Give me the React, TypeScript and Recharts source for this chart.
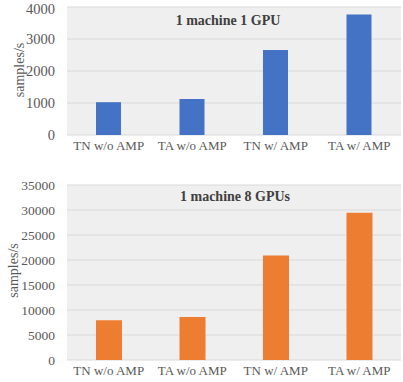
import { BarChart, Bar, XAxis, YAxis, CartesianGrid } from "recharts";

// ── Data ─────────────────────────────────────────────────────────────

const categories = ["TN w/o AMP", "TA w/o AMP", "TN w/ AMP", "TA w/ AMP"];
const oneGpu = [1025, 1125, 2660, 3765];
const eightGpu = [7950, 8590, 20900, 29450];
const oneGpuTicks = [0, 1000, 2000, 3000, 4000];
const eightGpuTicks = [0, 5000, 10000, 15000, 20000, 25000, 30000, 35000];

const FONT = "'Liberation Serif', 'Times New Roman', serif";
const TEXT = "#595959";

// ── Panel ────────────────────────────────────────────────────────────

interface PanelProps {
  title: string;
  values: number[];
  ticks: number[];
  color: string;
  top: number;
  height: number;
  margin: { top: number; right: number; left: number; bottom: number };
  xHeight: number;
  tickFont: number;
  titleTop: number;
  titleLeft: number;
  barSize: number;
  labelDx: number;
  labelDy: number;
}

function Panel(p: PanelProps) {
  const data = categories.map((name, i) => ({ name, value: p.values[i] }));
  const max = p.ticks[p.ticks.length - 1];
  return (
    <div style={{ position: "absolute", top: p.top, left: 0, width: 403, height: p.height }}>
      <BarChart width={403} height={p.height} data={data} margin={p.margin}>
        <CartesianGrid vertical={false} stroke="#d9d9d9" fill="#efefef" />
        <XAxis
          dataKey="name"
          height={p.xHeight}
          axisLine={false}
          tickLine={false}
          tickSize={0}
          tickMargin={6}
          interval={0}
          tick={{ fill: TEXT, fontSize: 13, fontFamily: FONT }}
        />
        <YAxis
          width={67}
          domain={[0, max]}
          ticks={p.ticks}
          axisLine={false}
          tickLine={false}
          tickSize={0}
          tickMargin={12}
          tick={{ fill: TEXT, fontSize: p.tickFont, fontFamily: FONT }}
          label={{
            value: "samples/s",
            angle: -90,
            position: "center",
            dx: p.labelDx,
            dy: p.labelDy,
            style: { fill: TEXT, fontSize: 14, fontFamily: FONT },
          }}
        />
        <Bar
          dataKey="value"
          fill={p.color}
          barSize={p.barSize}
          isAnimationActive={false}
        />
      </BarChart>
      <div
        style={{
          position: "absolute",
          top: p.titleTop,
          left: p.titleLeft,
          transform: "translateX(-50%)",
          whiteSpace: "nowrap",
          fontFamily: FONT,
          fontWeight: "bold",
          fontSize: 14,
          color: "#404040",
        }}
      >
        {p.title}
      </div>
    </div>
  );
}

// ── App ──────────────────────────────────────────────────────────────

export default function App() {
  return (
    <div style={{ position: "absolute", top: 0, left: 0, width: 403, height: 382, background: "#fff" }}>
      <Panel
        title="1 machine 1 GPU"
        values={oneGpu}
        ticks={oneGpuTicks}
        color="#4472c4"
        top={0}
        height={162}
        margin={{ top: 7, right: 2, left: 0, bottom: 0 }}
        xHeight={27}
        tickFont={14.5}
        titleTop={13}
        titleLeft={228}
        barSize={25}
        labelDx={-14.5}
        labelDy={-1}
      />
      <Panel
        title="1 machine 8 GPUs"
        values={eightGpu}
        ticks={eightGpuTicks}
        color="#ed7d31"
        top={176}
        height={206}
        margin={{ top: 9, right: 2, left: 0, bottom: 0 }}
        xHeight={22}
        tickFont={13.5}
        titleTop={13}
        titleLeft={235}
        barSize={26}
        labelDx={-20.5}
        labelDy={-2}
      />
    </div>
  );
}
